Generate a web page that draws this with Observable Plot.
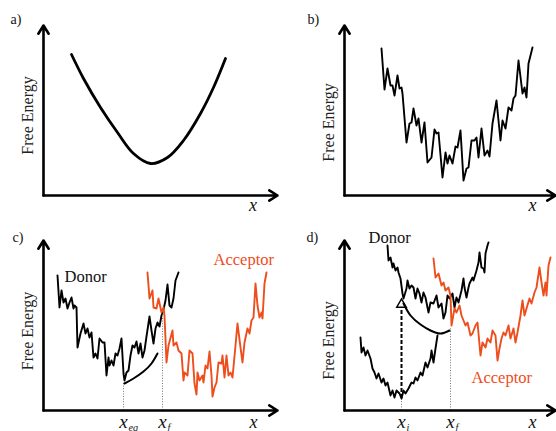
<!DOCTYPE html>
<html><head><meta charset="utf-8">
<script src="https://cdn.jsdelivr.net/npm/d3@7"></script>
<script src="https://cdn.jsdelivr.net/npm/@observablehq/plot@0.6"></script>
<style>
html,body{margin:0;padding:0;background:#fff;}
#fig{position:relative;width:556px;height:431px;overflow:hidden;background:#fff;}
#fig svg text{font-family:"Liberation Serif" !important;}
</style></head><body><div id="fig"></div>
<script>
// ---- data (arbitrary units: x = reaction coordinate, y = free energy) ----
const aX = [28,40,57,74,90,107,124,140,157,170,182];
const aY = [141,117,88,63,42,32,38,55,82,108,137];

const bX = [37,40,43,46,48,50,53,55,57,58,62,65,67,69,72,74,77,80,83,87,90,92,94,98,101,103,105,108,111,113,116,119,122,124,127,130,132,134,137,140,143,145,148,152,156,158,161,164,167,169,171,174,178,180,182,184,188];
const bY = [147,106,127,110,110,100,120,107,108,102,53,72,73,87,70,77,53,73,33,38,66,62,63,18,43,32,40,32,49,48,65,15,27,28,55,55,58,38,67,40,45,39,72,95,55,75,67,88,85,97,100,135,102,108,98,132,148];

const cDonorX = [14,16,18,20,22,24,26,28,30,31,33,34,37,40,42,44,46,48,50,52,54,56,59,61,63,65,66,68,70,72,74,76,78,80,81,83,85,87,89,91,93,95,97,99,101,103,106,108,110,112,114,116,118,120,122,124,126,128,130,132,135];
const cDonorY = [135,103,120,108,112,102,108,113,102,105,103,63,77,87,77,82,73,78,53,57,52,72,68,68,35,53,45,50,45,57,55,62,72,37,30,38,40,55,65,63,69,57,67,53,60,74,94,80,67,82,88,84,95,101,110,126,105,103,112,130,138];
const cAccX = [104,106,109,110,113,115,118,120,121,123,125,129,130,133,135,138,140,141,144,146,149,151,153,154,156,159,160,162,164,166,168,169,171,173,175,178,179,181,183,185,187,189,192,194,197,199,201,204,206,208,210,212,214,216,218,219,221,223];
const cAccY = [138,112,120,103,102,112,98,103,95,48,65,80,65,68,60,57,30,38,35,60,57,27,16,38,30,35,28,45,42,59,35,14,23,28,48,47,55,33,55,35,38,33,65,87,63,48,68,82,77,90,93,127,105,93,98,92,127,138];
const cArcX = [81,90,100,108,114];
const cArcY = [27,32,39,47,57];
const cTickX = [80,119];
const cTickSub = ["eq","f"];
const cDropTop = [28,92];

const dUpperX = [43,44,46,48,49,51,53,54,56,58,59,62,63,65,67,69,71,73,75,77,79,81,83,84,86,89,92,94,97,99,101,103,105,108,110,112,114,117,119,120,122,124,125,128,129,132,134,135,137,139,140,141,143,144];
const dUpperY = [165,150,153,143,147,140,143,138,132,117,112,122,130,122,125,123,112,122,117,108,118,113,103,98,108,107,115,103,107,92,98,115,112,117,103,113,108,120,132,123,113,123,127,133,130,140,148,158,143,142,138,157,165,168];
const dLowerX = [16,17,19,21,23,26,28,30,32,34,37,39,41,43,46,48,50,52,55,57,59,61,64,67,69,71,73,76,78,81,83,86,87,89,91,93];
const dLowerY = [73,58,63,55,60,52,42,38,32,37,28,32,25,28,15,20,13,20,17,12,20,17,22,28,27,33,30,38,35,48,43,52,60,48,62,75];
const dAccX = [89,91,94,97,99,101,104,106,107,110,112,115,117,121,123,126,128,131,133,136,138,141,143,146,148,151,153,155,157,159,161,164,166,169,171,173,176,178,180,182,185,187,190,192,195,197,199,201,202,204,206];
const dAccY = [152,133,137,125,128,120,123,115,85,102,98,105,95,85,88,75,77,85,88,55,68,63,72,68,80,75,50,62,72,78,75,85,72,82,68,78,95,110,95,102,112,107,118,123,143,128,115,128,115,145,153];
const dArcX = [59,66,76,86,96,105];
const dArcY = [107,95,86,80,77,80];
const dTickX = [57,106];
const dTickSub = ["i","f"];
const dDropTop = [12,82];
const dJumpX = [57];
const dJumpFrom = [12];
const dJumpTo = [102];
const dJumpTip = [106];

// ---- styling ----
const SERIF = "Liberation Serif";
const ORANGE = "#ee4d1c";
const fig = document.getElementById("fig");

function panel(cfg) {
  const {left, top, height, marginLeft, xMax, yMax, tag, tagDx, tagDy, titleDx, titleDy, xlabDx, xlabDy, marks} = cfg;
  const svg = Plot.plot({
    width: 278, height,
    marginLeft, marginRight: 1, marginTop: 25, marginBottom: height - 195,
    x: {domain: [0, xMax], axis: null},
    y: {domain: [0, yMax], axis: null},
    style: {fontFamily: SERIF, background: "transparent", overflow: "visible"},
    marks: [
      ...marks,
      Plot.arrow([[0, 0, 0, yMax], [0, 0, xMax, 0]], {
        x1: d => d[0], y1: d => d[1], x2: d => d[2], y2: d => d[3],
        stroke: "#000", strokeWidth: 2.6, headLength: 5.6, headAngle: 64, insetStart: 0, insetEnd: 0
      }),
      Plot.text([tag], {text: d => d, frameAnchor: "top-left", textAnchor: "start", lineAnchor: "bottom", dx: tagDx, dy: tagDy, fontSize: 14, fontFamily: SERIF, fill: "#111"}),
      Plot.text(["Free Energy"], {text: d => d, frameAnchor: "left", rotate: -90, textAnchor: "middle", lineAnchor: "middle", dx: titleDx, dy: titleDy, fontSize: 16, fontFamily: SERIF, fill: "#222"}),
      Plot.text(["x"], {text: d => d, frameAnchor: "bottom-right", textAnchor: "middle", lineAnchor: "bottom", dx: xlabDx, dy: xlabDy, fontSize: 18, fontFamily: SERIF, fontStyle: "italic", fill: "#111"})
    ]
  });
  svg.style.position = "absolute";
  svg.style.left = left + "px";
  svg.style.top = top + "px";
  svg.style.fontFamily = SERIF;
  fig.appendChild(svg);
}

function tickLabels(xs, subs) {
  return [
    Plot.text(xs, {x: xs, y: 0, text: () => "x", textAnchor: "middle", lineAnchor: "bottom", dy: 17, fontSize: 19, fontFamily: SERIF, fontStyle: "italic", fill: "#111"}),
    Plot.text(xs, {x: xs, y: 0, text: subs, textAnchor: "start", lineAnchor: "bottom", dx: 5, dy: 20, fontSize: 10, fontFamily: SERIF, fontStyle: "italic", fill: "#111"})
  ];
}

const noisy = {strokeWidth: 1.9, strokeLinejoin: "round", strokeLinecap: "round"};
const label = (t, dx, dy, fill) => Plot.text([t], {text: d => d, frameAnchor: "top-left", textAnchor: "start", lineAnchor: "bottom", dx, dy, fontSize: 16.5, fontFamily: SERIF, fill});

// a)
panel({left: 0, top: 0, height: 215, marginLeft: 43, xMax: 234, yMax: 170,
  tag: "a)", tagDx: -33, tagDy: -2, titleDx: -16, titleDy: 5, xlabDx: -24.5, xlabDy: 15,
  marks: [Plot.line(aX, {x: aX, y: aY, curve: "catmull-rom", stroke: "#000", strokeWidth: 2.8})]});

// b)
panel({left: 278, top: 0, height: 215, marginLeft: 66, xMax: 211, yMax: 170,
  tag: "b)", tagDx: -37, tagDy: -2, titleDx: -16, titleDy: 12, xlabDx: -23, xlabDy: 15.5,
  marks: [Plot.line(bX, {x: bX, y: bY, stroke: "#000", ...noisy})]});

// c)
panel({left: 0, top: 215, height: 216, marginLeft: 43, xMax: 234, yMax: 170,
  tag: "c)", tagDx: -31, tagDy: 1, titleDx: -16, titleDy: 5.5, xlabDx: -24, xlabDy: 17,
  marks: [
    Plot.ruleX(cTickX, {x: cTickX, y1: 0, y2: cDropTop, stroke: "#777", strokeWidth: 1, strokeDasharray: "1,1.6"}),
    Plot.line(cDonorX, {x: cDonorX, y: cDonorY, stroke: "#000", ...noisy}),
    Plot.line(cAccX, {x: cAccX, y: cAccY, stroke: ORANGE, ...noisy}),
    Plot.line(cArcX, {x: cArcX, y: cArcY, curve: "natural", stroke: "#000", strokeWidth: 2}),
    label("Donor", 21, 41, "#111"),
    label("Acceptor", 170, 24, ORANGE),
    ...tickLabels(cTickX, cTickSub)
  ]});

// d)
panel({left: 278, top: 215, height: 216, marginLeft: 66, xMax: 211, yMax: 170,
  tag: "d)", tagDx: -38, tagDy: 1, titleDx: -16, titleDy: 15, xlabDx: -23, xlabDy: 17,
  marks: [
    Plot.ruleX(dTickX, {x: dTickX, y1: 0, y2: dDropTop, stroke: "#777", strokeWidth: 1, strokeDasharray: "1,1.6"}),
    Plot.line(dLowerX, {x: dLowerX, y: dLowerY, stroke: "#000", ...noisy}),
    Plot.line(dUpperX, {x: dUpperX, y: dUpperY, stroke: "#000", ...noisy}),
    Plot.line(dAccX, {x: dAccX, y: dAccY, stroke: ORANGE, ...noisy}),
    Plot.ruleX(dJumpX, {x: dJumpX, y1: dJumpFrom, y2: dJumpTo, stroke: "#000", strokeWidth: 2, strokeDasharray: "4,2"}),
    Plot.dot(dJumpX, {x: dJumpX, y: dJumpTip, symbol: "triangle", r: 3.6, fill: "#fff", stroke: "#000", strokeWidth: 1.4}),
    Plot.line(dArcX, {x: dArcX, y: dArcY, curve: "natural", stroke: "#000", strokeWidth: 2}),
    label("Donor", 24, 2, "#111"),
    label("Acceptor", 127, 142, ORANGE),
    ...tickLabels(dTickX, dTickSub)
  ]});
</script></body></html>
